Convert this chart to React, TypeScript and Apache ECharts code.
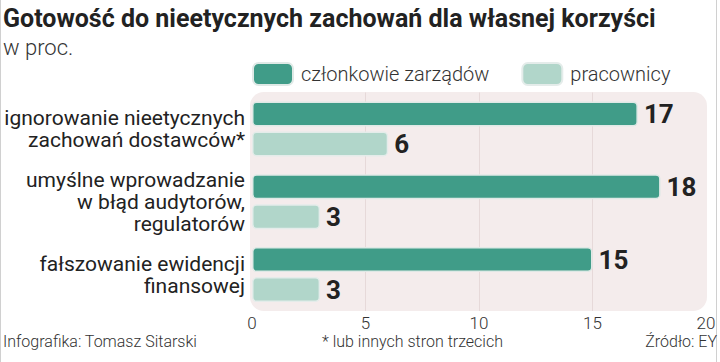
import React, { useEffect, useRef } from "react";
import * as echarts from "echarts";

const categories = [
  "ignorowanie nieetycznych\nzachowań dostawców*",
  "umyślne wprowadzanie\nw błąd audytorów,\nregulatorów",
  "fałszowanie ewidencji\nfinansowej",
];
const seriesNames = ["członkowie zarządów", "pracownicy"];
const boardValues = [17, 18, 15];
const employeeValues = [6, 3, 3];
const xTicks = [0, 5, 10, 15, 20];

const titleText = "Gotowość do nieetycznych zachowań dla własnej korzyści";
const subtitleText = "w proc.";
const creditText = "Infografika: Tomasz Sitarski";
const noteText = "* lub innych stron trzecich";
const sourceText = "Źródło: EY";

const DARK = "#409c88";
const LIGHT = "#b1d6ca";
const FONT = "Roboto, 'Noto Sans', sans-serif";

export default function App() {
  const ref = useRef<HTMLDivElement>(null);
  useEffect(() => {
    if (!ref.current) return;
    const chart = echarts.init(ref.current, null, { renderer: "svg" });
    const labelStyle = {
      show: true,
      position: "right",
      distance: 6,
      fontFamily: FONT,
      fontWeight: "bold",
      fontSize: 26,
      color: "#222",
    };
    const footStyle = { fontFamily: FONT, fontWeight: 300, fontSize: 16, lineHeight: 17, color: "#333" };
    chart.setOption({
      animation: false,
      backgroundColor: "#ffffff",
      textStyle: { fontFamily: FONT },
      title: [
        {
          text: titleText,
          left: 3,
          top: 6,
          padding: 0,
          textStyle: { fontFamily: FONT, fontWeight: "bold", fontSize: 25, color: "#222" },
        },
        {
          text: subtitleText,
          left: 3,
          top: 36,
          padding: 0,
          textStyle: { fontFamily: FONT, fontWeight: 300, fontSize: 22, color: "#333" },
        },
        { text: creditText, left: 3, top: 333, padding: 0, textStyle: footStyle },
        { text: noteText, left: 322, top: 333, padding: 0, textStyle: footStyle },
        { text: sourceText, right: 3, top: 333, padding: 0, textStyle: footStyle },
      ],
      legend: {
        left: 252,
        top: 62,
        padding: 0,
        itemWidth: 40,
        itemHeight: 22,
        itemGap: 32,
        icon: "roundRect",
        textStyle: { fontFamily: FONT, fontWeight: 300, fontSize: 20, color: "#333", padding: [0, 0, 0, 3] },
        data: seriesNames,
      },
      graphic: [
        {
          type: "rect",
          z: -10,
          shape: { x: 250, y: 92, width: 457, height: 219, r: 14 },
          style: { fill: "#f4ecec" },
        },
        { type: "line", shape: { x1: 0.5, y1: 0, x2: 0.5, y2: 362 }, style: { stroke: "#d0d0d0", lineWidth: 1 } },
        { type: "line", shape: { x1: 716.5, y1: 0, x2: 716.5, y2: 362 }, style: { stroke: "#d0d0d0", lineWidth: 1 } },
      ],
      grid: { left: 252, right: 14, top: 92.5, bottom: 51, containLabel: false },
      xAxis: {
        type: "value",
        min: xTicks[0],
        max: xTicks[xTicks.length - 1],
        interval: 5,
        axisLine: { show: false },
        axisTick: { show: false },
        axisLabel: { fontFamily: FONT, fontWeight: 300, fontSize: 17, lineHeight: 17, color: "#333", margin: 3 },
        splitLine: {
          show: true,
          lineStyle: { color: ["transparent", "#e6d9d9", "#e6d9d9", "#e6d9d9", "transparent"], width: 1 },
        },
      },
      yAxis: {
        type: "category",
        inverse: true,
        data: categories,
        axisLine: { show: false },
        axisTick: { show: false },
        axisLabel: {
          fontFamily: FONT,
          fontWeight: "normal",
          fontSize: 21,
          lineHeight: 22,
          color: "#222",
          align: "right",
          margin: 7,
        },
      },
      series: [
        {
          name: seriesNames[0],
          type: "bar",
          data: boardValues,
          barWidth: 25,
          barGap: "20%",
          itemStyle: { color: DARK, borderColor: "#dfe9e6", borderWidth: 1.5, borderRadius: 4 },
          label: labelStyle,
        },
        {
          name: seriesNames[1],
          type: "bar",
          data: employeeValues,
          barWidth: 25,
          barGap: "20%",
          itemStyle: { color: LIGHT, borderColor: "#e4ecea", borderWidth: 1.5, borderRadius: 4 },
          label: labelStyle,
        },
      ],
    });
    return () => chart.dispose();
  }, []);
  return <div ref={ref} style={{ width: 720, height: 362, position: "absolute", left: 0, top: 0 }} />;
}
